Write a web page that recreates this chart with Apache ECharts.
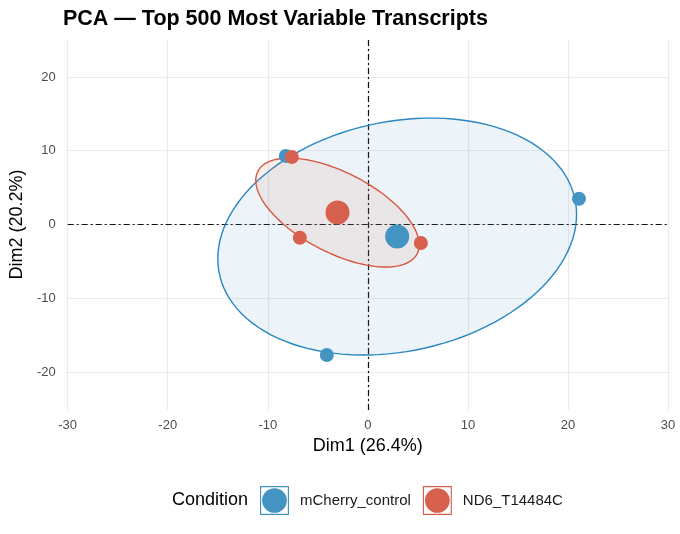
<!DOCTYPE html>
<html>
<head>
<meta charset="utf-8">
<script src="https://cdn.jsdelivr.net/npm/echarts@6/dist/echarts.min.js"></script>
<style>
  html, body { margin: 0; padding: 0; background: #fff; }
  #chart { width: 680px; height: 534px; }
</style>
</head>
<body>
<div id="chart"></div>
<script>
// sample coordinates on the first two PCA dimensions
const groups = ['mCherry_control', 'ND6_T14484C'];
const mcherryDim1 = [-8.2, 21.1, -4.1];
const mcherryDim2 = [9.3, 3.5, -17.7];
const nd6Dim1 = [-7.6, -6.8, 5.3];
const nd6Dim2 = [9.15, -1.8, -2.5];
const xTicks = [-30, -20, -10, 0, 10, 20, 30];
const yTicks = [-20, -10, 0, 10, 20];

const colors = { mCherry_control: '#4393c3', ND6_T14484C: '#d6604d' };
const lineColors = { mCherry_control: '#2a86c0', ND6_T14484C: '#d8573f' };
const ELLIPSE_SCALE = 1.13;

function mean(a) { return a.reduce((s, v) => s + v, 0) / a.length; }

// covariance ellipse around the group centroid
function ellipse(xs, ys) {
  const mx = mean(xs), my = mean(ys), n = xs.length;
  let sxx = 0, syy = 0, sxy = 0;
  for (let i = 0; i < n; i++) {
    sxx += (xs[i] - mx) ** 2;
    syy += (ys[i] - my) ** 2;
    sxy += (xs[i] - mx) * (ys[i] - my);
  }
  sxx /= n - 1; syy /= n - 1; sxy /= n - 1;
  const l11 = Math.sqrt(sxx), l21 = sxy / l11, l22 = Math.sqrt(syy - l21 * l21);
  const pts = [];
  for (let k = 0; k < 120; k++) {
    const t = (k / 120) * Math.PI * 2;
    const u = Math.cos(t) * ELLIPSE_SCALE, v = Math.sin(t) * ELLIPSE_SCALE;
    pts.push([mx + l11 * u, my + l21 * u + l22 * v]);
  }
  return pts;
}

const groupData = {
  mCherry_control: [mcherryDim1, mcherryDim2],
  ND6_T14484C: [nd6Dim1, nd6Dim2]
};

function hexA(hex, a) {
  const r = parseInt(hex.slice(1, 3), 16), g = parseInt(hex.slice(3, 5), 16), b = parseInt(hex.slice(5, 7), 16);
  return `rgba(${r},${g},${b},${a})`;
}

const series = [];

// horizontal grid lines (only at the labelled ticks)
series.push({
  type: 'line', data: [], silent: true,
  markLine: {
    symbol: 'none', silent: true, label: { show: false },
    lineStyle: { color: '#ebebeb', width: 1.2, type: 'solid' },
    data: yTicks.map(v => ({ yAxis: v }))
  },
  z: 0
});

groups.forEach(g => {
  const [xs, ys] = groupData[g];
  series.push({
    name: g,
    type: 'custom',
    data: ellipse(xs, ys),
    silent: true,
    itemStyle: { color: colors[g] },
    renderItem: (params, api) => {
      if (params.dataIndex !== 0) return null;
      const poly = ellipse(xs, ys).map(p => api.coord(p));
      return {
        type: 'polygon',
        shape: { points: poly },
        style: { fill: hexA(colors[g], 0.1), stroke: lineColors[g], lineWidth: 1.4 }
      };
    },
    z: 5
  });
});

// reference lines at zero
series.push({
  type: 'line', data: [], silent: true,
  markLine: {
    symbol: 'none', silent: true, label: { show: false },
    lineStyle: { color: '#111', width: 1.2, type: [6, 3, 2, 3] },
    data: [{ xAxis: 0 }, { yAxis: 0 }]
  },
  z: 6
});

groups.forEach(g => {
  const [xs, ys] = groupData[g];
  series.push({
    name: g, type: 'scatter', symbolSize: 14,
    itemStyle: { color: colors[g], opacity: 1 },
    data: xs.map((x, i) => [x, ys[i]]), z: 7
  });
});
groups.forEach(g => {
  const [xs, ys] = groupData[g];
  series.push({
    name: g, type: 'scatter', symbolSize: 24,
    itemStyle: { color: colors[g], opacity: 1 },
    data: [[mean(xs), mean(ys)]], z: 8
  });
});

// legend key: square frame with a dot inside
const keyIcon = 'path://M0 0H30V30H0Z M1.2 1.2V28.8H28.8V1.2Z M15 2.2A12.8 12.8 0 1 1 14.99 2.2Z';

const chart = echarts.init(document.getElementById('chart'), null, { renderer: 'canvas' });
chart.setOption({
  animation: false,
  textStyle: { fontFamily: 'Liberation Sans, Arial, sans-serif' },
  title: [
    { text: 'PCA \u2014 Top 500 Most Variable Transcripts', left: 58, top: 3,
      textStyle: { fontSize: 21.5, fontWeight: 'bold', color: '#000' } },
    { text: 'Condition', left: 167, top: 486,
      textStyle: { fontSize: 18, fontWeight: 'normal', color: '#000' } }
  ],
  legend: {
    left: 260, top: 486, padding: 0,
    itemWidth: 29, itemHeight: 29, itemGap: 12,
    data: groups.map(g => ({ name: g, icon: keyIcon })),
    textStyle: { fontSize: 15, color: '#1a1a1a', padding: [2, 0, 0, 6] }
  },
  grid: { left: 65, right: 12, top: 39, bottom: 124 },
  xAxis: {
    type: 'value', min: -30, max: 30, interval: 10,
    name: 'Dim1 (26.4%)', nameLocation: 'middle', nameGap: 25,
    nameTextStyle: { fontSize: 18, color: '#000' },
    axisLine: { show: false }, axisTick: { show: false },
    axisLabel: { fontSize: 13, color: '#4d4d4d', margin: 9,
      formatter: v => xTicks.includes(v) ? String(v) : '' },
    splitLine: { lineStyle: { color: '#ebebeb', width: 1.2 } }
  },
  yAxis: {
    type: 'value', min: -25.15, max: 25.15,
    name: 'Dim2 (20.2%)', nameLocation: 'middle', nameGap: 38,
    nameTextStyle: { fontSize: 18, color: '#000' },
    axisLine: { show: false }, axisTick: { show: false },
    axisLabel: { fontSize: 13, color: '#4d4d4d', margin: 12, customValues: yTicks },
    splitLine: { show: false }
  },
  series: series
});
</script>
</body>
</html>
